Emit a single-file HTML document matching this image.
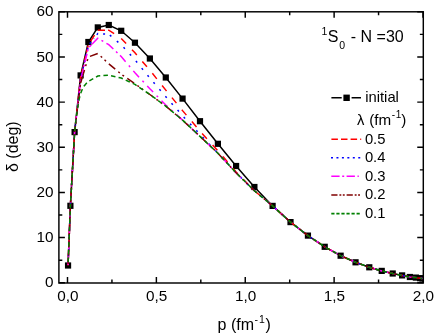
<!DOCTYPE html>
<html><head><meta charset="utf-8"><style>
html,body{margin:0;padding:0;background:#fff;}
svg{display:block;will-change:transform;font-family:"Liberation Sans",sans-serif;font-size:16px;fill:#000;}
</style></head><body>
<svg width="436" height="335" viewBox="0 0 436 335">
<rect width="436" height="335" fill="#fff"/>
<rect x="58.9" y="11.8" width="364.4" height="271.2" fill="none" stroke="#000" stroke-width="1.45"/>
<path d="M67.50 283.00v-6.0M67.50 11.80v6.0" stroke="#000" stroke-width="1.45"/>
<path d="M111.94 283.00v-3.4M111.94 11.80v3.4" stroke="#000" stroke-width="1.45"/>
<path d="M156.38 283.00v-6.0M156.38 11.80v6.0" stroke="#000" stroke-width="1.45"/>
<path d="M200.81 283.00v-3.4M200.81 11.80v3.4" stroke="#000" stroke-width="1.45"/>
<path d="M245.25 283.00v-6.0M245.25 11.80v6.0" stroke="#000" stroke-width="1.45"/>
<path d="M289.69 283.00v-3.4M289.69 11.80v3.4" stroke="#000" stroke-width="1.45"/>
<path d="M334.12 283.00v-6.0M334.12 11.80v6.0" stroke="#000" stroke-width="1.45"/>
<path d="M378.56 283.00v-3.4M378.56 11.80v3.4" stroke="#000" stroke-width="1.45"/>
<path d="M423.00 283.00v-6.0M423.00 11.80v6.0" stroke="#000" stroke-width="1.45"/>
<path d="M58.90 282.75h6.0M423.25 282.75h-6.0" stroke="#000" stroke-width="1.45"/>
<path d="M58.90 260.17h3.4M423.25 260.17h-3.4" stroke="#000" stroke-width="1.45"/>
<path d="M58.90 237.59h6.0M423.25 237.59h-6.0" stroke="#000" stroke-width="1.45"/>
<path d="M58.90 215.01h3.4M423.25 215.01h-3.4" stroke="#000" stroke-width="1.45"/>
<path d="M58.90 192.43h6.0M423.25 192.43h-6.0" stroke="#000" stroke-width="1.45"/>
<path d="M58.90 169.85h3.4M423.25 169.85h-3.4" stroke="#000" stroke-width="1.45"/>
<path d="M58.90 147.28h6.0M423.25 147.28h-6.0" stroke="#000" stroke-width="1.45"/>
<path d="M58.90 124.70h3.4M423.25 124.70h-3.4" stroke="#000" stroke-width="1.45"/>
<path d="M58.90 102.12h6.0M423.25 102.12h-6.0" stroke="#000" stroke-width="1.45"/>
<path d="M58.90 79.54h3.4M423.25 79.54h-3.4" stroke="#000" stroke-width="1.45"/>
<path d="M58.90 56.96h6.0M423.25 56.96h-6.0" stroke="#000" stroke-width="1.45"/>
<path d="M58.90 34.38h3.4M423.25 34.38h-3.4" stroke="#000" stroke-width="1.45"/>
<path d="M58.90 11.80h6.0M423.25 11.80h-6.0" stroke="#000" stroke-width="1.45"/>
<clipPath id="c"><rect x="58" y="11" width="365.9" height="272.3"/></clipPath><g clip-path="url(#c)"><polyline points="68.05,265.50 70.40,205.80 74.61,132.10 80.62,75.40 88.37,42.00 97.79,27.40 108.78,25.00 121.21,30.80 134.95,42.70 149.87,58.50 165.79,77.50 182.56,98.60 199.99,121.20 217.90,143.80 236.10,166.00 254.40,187.00 272.60,205.90 290.51,222.10 307.94,235.60 324.71,246.80 340.63,255.70 355.55,262.30 369.29,267.30 381.72,270.90 392.71,273.50 402.13,275.40 409.88,277.00 415.89,277.60 420.10,278.20 422.45,278.50" fill="none" stroke="#000" stroke-width="1.5"/>
<rect x="64.95" y="262.40" width="6.2" height="6.2" fill="#000"/>
<rect x="67.30" y="202.70" width="6.2" height="6.2" fill="#000"/>
<rect x="71.51" y="129.00" width="6.2" height="6.2" fill="#000"/>
<rect x="77.52" y="72.30" width="6.2" height="6.2" fill="#000"/>
<rect x="85.27" y="38.90" width="6.2" height="6.2" fill="#000"/>
<rect x="94.69" y="24.30" width="6.2" height="6.2" fill="#000"/>
<rect x="105.68" y="21.90" width="6.2" height="6.2" fill="#000"/>
<rect x="118.11" y="27.70" width="6.2" height="6.2" fill="#000"/>
<rect x="131.85" y="39.60" width="6.2" height="6.2" fill="#000"/>
<rect x="146.77" y="55.40" width="6.2" height="6.2" fill="#000"/>
<rect x="162.69" y="74.40" width="6.2" height="6.2" fill="#000"/>
<rect x="179.46" y="95.50" width="6.2" height="6.2" fill="#000"/>
<rect x="196.89" y="118.10" width="6.2" height="6.2" fill="#000"/>
<rect x="214.80" y="140.70" width="6.2" height="6.2" fill="#000"/>
<rect x="233.00" y="162.90" width="6.2" height="6.2" fill="#000"/>
<rect x="251.30" y="183.90" width="6.2" height="6.2" fill="#000"/>
<rect x="269.50" y="202.80" width="6.2" height="6.2" fill="#000"/>
<rect x="287.41" y="219.00" width="6.2" height="6.2" fill="#000"/>
<rect x="304.84" y="232.50" width="6.2" height="6.2" fill="#000"/>
<rect x="321.61" y="243.70" width="6.2" height="6.2" fill="#000"/>
<rect x="337.53" y="252.60" width="6.2" height="6.2" fill="#000"/>
<rect x="352.45" y="259.20" width="6.2" height="6.2" fill="#000"/>
<rect x="366.19" y="264.20" width="6.2" height="6.2" fill="#000"/>
<rect x="378.62" y="267.80" width="6.2" height="6.2" fill="#000"/>
<rect x="389.61" y="270.40" width="6.2" height="6.2" fill="#000"/>
<rect x="399.03" y="272.30" width="6.2" height="6.2" fill="#000"/>
<rect x="406.78" y="273.90" width="6.2" height="6.2" fill="#000"/>
<rect x="412.79" y="274.50" width="6.2" height="6.2" fill="#000"/>
<rect x="417.00" y="275.10" width="6.2" height="6.2" fill="#000"/>
<rect x="419.35" y="275.40" width="6.2" height="6.2" fill="#000"/>
<polyline points="68.05,265.50 70.40,205.80 74.61,132.10 80.62,77.50 88.37,44.50 89.50,42.79" fill="none" stroke="#ff0000" stroke-width="1.5" stroke-dasharray="7.1 3.2" stroke-dashoffset="2.05"/>
<polyline points="89.50,42.79 97.79,30.20 105.50,30.20" fill="none" stroke="#ff0000" stroke-width="1.5" stroke-dasharray="7.1 6" stroke-dashoffset="11.02"/>
<polyline points="105.50,30.20 108.78,30.20 121.21,38.40 134.95,52.80 149.87,70.20 165.79,90.10 182.56,110.60 199.99,131.10 217.90,150.70 236.10,172.00 254.40,190.80 272.60,205.90 290.51,222.10 307.94,235.60 324.71,246.80 340.63,255.70 355.55,262.30 369.29,267.30 381.72,270.90 392.71,273.50 402.13,275.40 409.88,277.00 415.89,277.60 420.10,278.20 422.45,278.50" fill="none" stroke="#ff0000" stroke-width="1.5" stroke-dasharray="7.1 8.5" stroke-dashoffset="13.01"/>
<polyline points="68.05,265.50 70.40,205.80 74.61,132.10 80.62,78.50 88.37,45.50 94.00,38.39" fill="none" stroke="#0000ff" stroke-width="1.5" stroke-dasharray="2 4.5" stroke-dashoffset="3.93"/>
<polyline points="94.00,38.39 97.79,33.60 107.50,34.13" fill="none" stroke="#0000ff" stroke-width="1.5" stroke-dasharray="2 4.9" stroke-dashoffset="2.38"/>
<polyline points="107.50,34.13 108.78,34.20 121.21,44.80 134.95,59.80 149.87,78.10 165.79,96.70 182.56,115.70 199.99,134.40 217.90,153.20 236.10,172.80 254.40,190.80 272.60,205.90 290.51,222.10 307.94,235.60 324.71,246.80 340.63,255.70 355.55,262.30 369.29,267.30 381.72,270.90 392.71,273.50 402.13,275.40 409.88,277.00 415.89,277.60 420.10,278.20 422.45,278.50" fill="none" stroke="#0000ff" stroke-width="1.5" stroke-dasharray="2 7.2" stroke-dashoffset="6.53"/>
<polyline points="68.05,265.50 70.40,205.80 74.61,132.10 80.62,80.50 88.37,48.00 91.30,44.99" fill="none" stroke="#ff00ff" stroke-width="1.5" stroke-dasharray="8.5 2.6 2 2.6" stroke-dashoffset="15.27"/>
<polyline points="91.30,44.99 97.79,38.30 108.78,44.70 119.60,54.97" fill="none" stroke="#ff00ff" stroke-width="1.5" stroke-dasharray="9 3.7 2 3.7" stroke-dashoffset="17.48"/>
<polyline points="119.60,54.97 121.21,56.50 134.95,72.80 149.87,88.80 165.79,105.00 182.56,120.10 199.99,136.40 217.90,153.20 236.10,172.80 254.40,190.80 272.60,205.90 290.51,222.10 307.94,235.60 324.71,246.80 340.63,255.70 355.55,262.30 369.29,267.30 381.72,270.90 392.71,273.50 402.13,275.40 409.88,277.00 415.89,277.60 420.10,278.20 422.45,278.50" fill="none" stroke="#ff00ff" stroke-width="1.5" stroke-dasharray="8.5 5 2 5" stroke-dashoffset="19.96"/>
<polyline points="68.05,265.50 70.40,205.80 74.61,132.10 80.62,83.00 83.50,73.34" fill="none" stroke="#800000" stroke-width="1.5" stroke-dasharray="6.5 2 2 2 2 2" stroke-dashoffset="14.97"/>
<polyline points="83.50,73.34 88.37,57.00 97.79,53.50 108.78,63.80 121.21,74.20 134.95,83.80 149.87,94.50 165.79,106.20 182.56,120.10 199.99,136.40 217.90,153.20 236.10,172.80 254.40,190.80 272.60,205.90 290.51,222.10 307.94,235.60 324.71,246.80 340.63,255.70 355.55,262.30 369.29,267.30 381.72,270.90 392.71,273.50 402.13,275.40 409.88,277.00 415.89,277.60 420.10,278.20 422.45,278.50" fill="none" stroke="#800000" stroke-width="1.5" stroke-dasharray="8.3 4.0 2 3.3 2 3.9" stroke-dashoffset="4.75"/>
<polyline points="68.05,265.50 70.40,205.80 74.61,132.10 76.50,115.50 78.00,105.50 79.30,98.50 80.62,93.50 82.30,89.30 84.00,86.20 86.00,83.70 88.37,81.50 97.79,76.00 108.78,75.20 121.21,78.00 134.95,84.40 149.87,94.50 165.79,106.20 182.56,120.10 199.99,136.40 217.90,153.20 236.10,172.80 254.40,190.80 272.60,205.90 290.51,222.10 307.94,235.60 324.71,246.80 340.63,255.70 355.55,262.30 369.29,267.30 381.72,270.90 392.71,273.50 402.13,275.40 409.88,277.00 415.89,277.60 420.10,278.20 422.45,278.50" fill="none" stroke="#008000" stroke-width="1.5" stroke-dasharray="4.5 3.2" stroke-dashoffset="4.18"/></g>
<g font-size="15.3">
<text x="53.5" y="287.35" text-anchor="end">0</text>
<text x="53.5" y="242.19" text-anchor="end">10</text>
<text x="53.5" y="197.03" text-anchor="end">20</text>
<text x="53.5" y="151.88" text-anchor="end">30</text>
<text x="53.5" y="106.72" text-anchor="end">40</text>
<text x="53.5" y="61.56" text-anchor="end">50</text>
<text x="53.5" y="16.40" text-anchor="end">60</text>
<text x="67.80" y="301.1" text-anchor="middle">0,0</text>
<text x="156.68" y="301.1" text-anchor="middle">0,5</text>
<text x="245.55" y="301.1" text-anchor="middle">1,0</text>
<text x="334.43" y="301.1" text-anchor="middle">1,5</text>
<text x="423.30" y="301.1" text-anchor="middle">2,0</text>
</g>
<text transform="translate(17.5,146.7) rotate(-90)" text-anchor="middle" font-size="16">δ (deg)</text>
<text x="217.6" y="330.3" font-size="16">p (fm<tspan font-size="10.5" dy="-7" dx="0.5">-</tspan><tspan font-size="10.5" dx="1.0">1</tspan><tspan dy="7" dx="0.5">)</tspan></text>
<text x="321.6" y="42.4" font-size="16"><tspan font-size="10.5" dy="-7">1</tspan><tspan dy="7" dx="0.3">S</tspan><tspan font-size="10.5" dy="6.3" dx="0.8">0</tspan><tspan dy="-6.3" dx="1.3"> - N =30</tspan></text>
<g font-size="14.8">
<path d="M331.4 97.8H341.7M351.6 97.8H361" stroke="#000" stroke-width="1.5"/>
<rect x="343.4" y="94.6" width="6.4" height="6.4" fill="#000"/>
<text x="365.2" y="102.1">initial</text>
<text x="357" y="124.7">λ</text><text x="369.3" y="124.7" font-size="15.2">(fm<tspan font-size="10" dy="-6.5" dx="0.5">-</tspan><tspan font-size="10" dx="0.7">1</tspan><tspan dy="6.5" dx="0">)</tspan></text>
<path d="M331.4 139.2H361.2" stroke="#ff0000" stroke-width="1.6" stroke-dasharray="6.5 3.1"/>
<text x="364.9" y="143.7">0.5</text>
<path d="M331 157.7H361.2" stroke="#0000ff" stroke-width="1.6" stroke-dasharray="2 3.45"/>
<text x="364.9" y="162.1">0.4</text>
<path d="M331.3 176.3H358.8" stroke="#ff00ff" stroke-width="1.6" stroke-dasharray="8.3 2.6 2 2.4"/>
<text x="364.9" y="180.9">0.3</text>
<path d="M331.3 195H361.2" stroke="#800000" stroke-width="1.6" stroke-dasharray="6.2 1.9 1.9 1.5 1.9 1.9"/>
<text x="364.9" y="199.3">0.2</text>
<path d="M331.3 213.6H360.2" stroke="#008000" stroke-width="1.6" stroke-dasharray="3.2 1.85"/>
<text x="364.9" y="217.9">0.1</text>
</g>
</svg>
</body></html>
